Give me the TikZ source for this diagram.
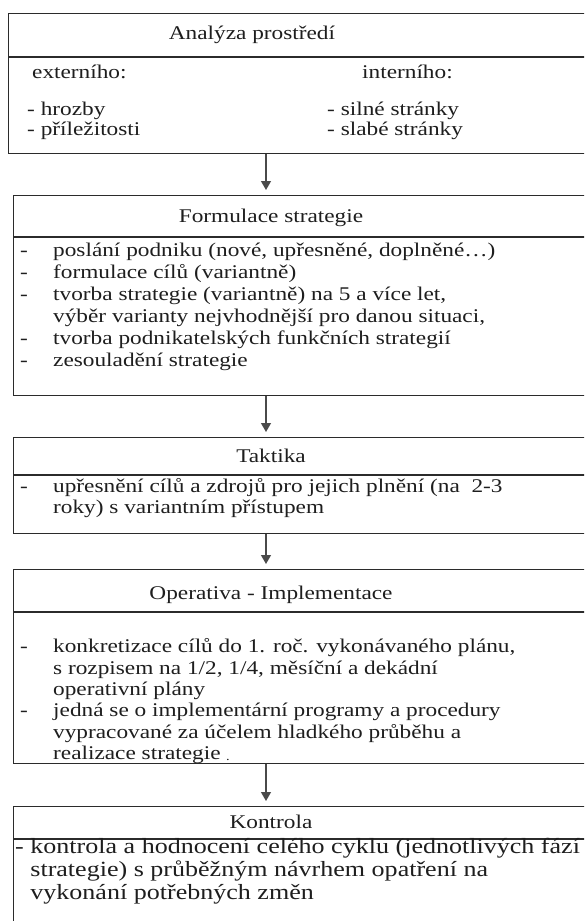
\documentclass[tikz,border=0pt]{standalone}
\usepackage{fontspec}
\setmainfont{Liberation Serif}[FakeStretch=1.2]
\usetikzlibrary{arrows.meta}
\definecolor{ink}{HTML}{1E1E1E}
\definecolor{linec}{HTML}{2B2B2B}
\definecolor{arrowc}{HTML}{4A4A4A}
\begin{document}
\begin{tikzpicture}[x=1pt,y=-1pt,
  frame/.style={draw=linec, line width=1.4pt, rectangle, inner sep=0pt, anchor=north west},
  rule/.style={draw=linec, line width=1.4pt},
  flow/.style={draw=arrowc, line width=1.3pt, -{Triangle[length=9pt,width=10pt]}, shorten >=5pt},
  head/.style={anchor=base, inner sep=0pt, text=ink},
  tx/.style={anchor=base west, inner sep=0pt, text=ink},
  big/.style={font=\fontsize{21.7}{24}\selectfont},
  font=\fontsize{19.4}{22}\selectfont]
\useasboundingbox (0,0) rectangle (584,921);
\clip (0,0) rectangle (584,921);
\fill[white] (0,0) rectangle (584,921);

% frames of the five stages (right edges run past the page)
\node[frame, minimum width=600pt, minimum height=140pt] (b1) at (8,13) {};
\node[frame, minimum width=600pt, minimum height=200pt] (b2) at (13,195) {};
\node[frame, minimum width=600pt, minimum height=96pt]  (b3) at (13,437) {};
\node[frame, minimum width=600pt, minimum height=194pt] (b4) at (13,569) {};
\node[frame, minimum width=600pt, minimum height=140pt] (b5) at (13,806) {};

% header rules
\coordinate (d1) at (0,57);
\coordinate (d2) at (0,237);
\coordinate (d3) at (0,475);
\coordinate (d4) at (0,612);
\coordinate (d5) at (0,839);
\draw[rule] (b1.west |- d1) -- (b1.east |- d1);
\draw[rule] (b2.west |- d2) -- (b2.east |- d2);
\draw[rule] (b3.west |- d3) -- (b3.east |- d3);
\draw[rule] (b4.west |- d4) -- (b4.east |- d4);
\draw[rule] (b5.west |- d5) -- (b5.east |- d5);

% connectors
\coordinate (ax) at (266,0);
\draw[flow] (b1.south -| ax) -- (b2.north -| ax);
\draw[flow] (b2.south -| ax) -- (b3.north -| ax);
\draw[flow] (b3.south -| ax) -- (b4.north -| ax);
\draw[flow] (b4.south -| ax) -- (b5.north -| ax);

% Analýza prostředí
\node[head] (h1) at (252,39) {Analýza prostředí};
\node[tx] (e1) at (32,78) {externího:};
\node[tx] (i1) at (362,78) {interního:};
\node[tx] (e2) at (27,115) {- hrozby};
\node[tx] (e3) at (27,135) {- příležitosti};
\node[tx] (i2) at (327,115) {- silné stránky};
\node[tx] (i3) at (327,135) {- slabé stránky};

% Formulace strategie
\node[head] (h2) at (271,222) {Formulace strategie};
\node[tx] (f1d) at (20,256) {-};
\node[tx] (f2d) at (20,278) {-};
\node[tx] (f3d) at (20,300) {-};
\node[tx] (f5d) at (20,344) {-};
\node[tx] (f6d) at (20,366) {-};
\node[tx] (f1) at (53,256) {poslání podniku (nové, upřesněné, doplněné…)};
\node[tx] (f2) at (53,278) {formulace cílů (variantně)};
\node[tx] (f3) at (53,300) {tvorba strategie (variantně) na 5 a více let,};
\node[tx] (f4) at (53,322) {výběr varianty nejvhodnější pro danou situaci,};
\node[tx] (f5) at (53,344) {tvorba podnikatelských funkčních strategií};
\node[tx] (f6) at (53,366) {zesouladění strategie};

% Taktika
\node[head] (h3) at (271,462) {Taktika};
\node[tx] (t1d) at (20,492) {-};
\node[tx] (t1) at (53,492) {upřesnění cílů a zdrojů pro jejich plnění (na\ \ 2-3};
\node[tx] (t2) at (53,513) {roky) s variantním přístupem};

% Operativa - Implementace
\node[head] (h4) at (271,599) {Operativa - Implementace};
\node[tx] (o1d) at (20,652) {-};
\node[tx] (o4d) at (20,716) {-};
\node[tx] (o1) at (53,652) {konkretizace cílů do 1. roč. vykonávaného plánu,};
\node[tx] (o2) at (53,674) {s rozpisem na 1/2, 1/4, měsíční a dekádní};
\node[tx] (o3) at (53,695) {operativní plány};
\node[tx] (o4) at (53,716) {jedná se o implementární programy a procedury};
\node[tx] (o5) at (53,738) {vypracované za účelem hladkého průběhu a};
\node[tx] (o6) at (53,759) {realizace strategie};
\node[tx, font=\fontsize{12}{12}\selectfont] (o6p) at (226,760) {.};

% Kontrola
\node[head] (h5) at (271,828) {Kontrola};
\node[tx, big] (k1) at (15,853) {- kontrola a hodnocení celého cyklu (jednotlivých fází};
\node[tx, big] (k2) at (15,876) {\phantom{- }strategie) s průběžným návrhem opatření na};
\node[tx, big] (k3) at (15,899) {\phantom{- }vykonání potřebných změn};
\end{tikzpicture}
\end{document}
